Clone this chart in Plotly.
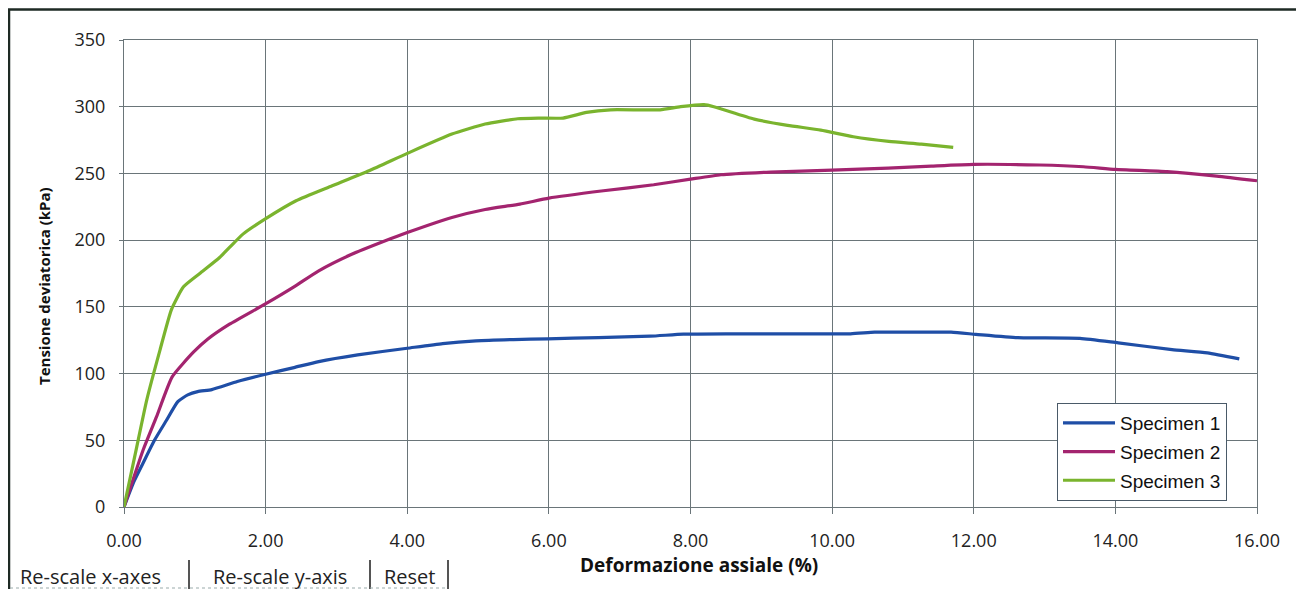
import plotly.graph_objects as go

# ---- data ----
strain1 = [0, 0.14, 0.27, 0.43, 0.6, 0.76, 0.9, 1.04, 1.24, 1.6, 2.0, 2.4, 2.75, 3.3, 4.0, 4.5,
           4.97, 5.5, 5.98, 6.7, 7.43, 7.9, 8.5, 9.2, 10.26, 10.6, 11.0, 11.68, 12.03, 12.62,
           13.5, 14.04, 14.8, 15.3, 15.75]
stress1 = [0, 19, 33, 50, 65, 79, 84, 86.5, 88, 94, 99.5, 104.5, 109, 114, 119, 122.5,
           124.5, 125.5, 126, 127, 128, 129.5, 129.8, 129.8, 129.8, 131, 131, 131, 129.4, 126.9,
           126.4, 123, 118, 115.5, 111]

strain2 = [0, 0.27, 0.46, 0.68, 0.98, 1.18, 1.49, 1.99, 2.4, 2.75, 3.2, 3.69, 4.0, 4.63, 5.1,
           5.59, 6.0, 6.77, 7.48, 8.0, 8.43, 9.13, 10.0, 10.79, 11.4, 12.0, 12.93, 13.55, 14.0,
           14.73, 15.43, 16.0]
stress2 = [0, 42.7, 67.7, 97.5, 116, 125.7, 137, 152, 165, 177, 189, 199.5, 205.7, 217, 223,
           227, 231.5, 237, 241.5, 245.7, 249, 251, 252.5, 254, 255.5, 256.8, 256.3, 255, 253,
           251.3, 248, 244.5]

strain3 = [0, 0.16, 0.32, 0.51, 0.67, 0.84, 1.07, 1.35, 1.49, 1.68, 1.99, 2.43, 2.94, 3.46, 4.0,
           4.63, 5.1, 5.56, 5.85, 6.2, 6.53, 6.87, 7.57, 7.86, 8.19, 8.33, 8.9, 9.37, 9.84, 10.3,
           10.8, 11.26, 11.71]
stress3 = [0, 40, 80, 118, 148, 165, 175, 187, 194.5, 204.5, 215.7, 229.5, 240.7, 252, 265,
           279.5, 287, 291, 291.5, 291.5, 295.7, 297.7, 297.7, 300, 301.5, 300, 290.7, 286, 282.5,
           277.5, 274, 272, 269.5]

series_names = ["Specimen 1", "Specimen 2", "Specimen 3"]
x_tick_vals = [0, 2, 4, 6, 8, 10, 12, 14, 16]
y_tick_vals = [0, 50, 100, 150, 200, 250, 300, 350]
button_labels = ["Re-scale x-axes", "Re-scale y-axis", "Reset"]

colors = ["#1f4ea6", "#a3246f", "#7ab42e"]

# the page body adds an 8px margin, so the figure is sized/placed in page px minus 8
OFF = 8
W, H = 1304 - OFF, 589 - OFF
L, R, T, B = 124 - OFF, 1257 - OFF, 40 - OFF, 507 - OFF


def px(x):
    """page x pixel -> paper coordinate"""
    return (x - OFF - L) / (R - L)


def py(y):
    """page y pixel -> paper coordinate"""
    return (B - (y - OFF)) / (B - T)


fig = go.Figure()
for i, (xs, ys) in enumerate([(strain1, stress1), (strain2, stress2), (strain3, stress3)]):
    fig.add_trace(go.Scatter(
        x=xs, y=ys, mode="lines", name=series_names[i],
        line=dict(color=colors[i], width=3.2, shape="spline", smoothing=0.5),
        legendgroup=str(i),
    ))

grid = "#6a7579"
tickfont = dict(family="Open Sans, Lato, sans-serif", size=18, color="#222")
fig.update_xaxes(
    range=[0, 16], tickvals=x_tick_vals, tickformat=".2f",
    showgrid=True, gridcolor=grid, gridwidth=1,
    showline=True, linecolor=grid, linewidth=1, mirror=True,
    ticks="outside", ticklen=6, tickcolor=grid,
    tickfont=tickfont, ticklabelstandoff=11, zeroline=False,
)
fig.update_yaxes(
    range=[0, 350], tickvals=y_tick_vals,
    showgrid=True, gridcolor=grid, gridwidth=1,
    showline=True, linecolor=grid, linewidth=1, mirror=True,
    ticks="outside", ticklen=4, tickcolor=grid,
    tickfont=tickfont, ticklabelstandoff=10, zeroline=False,
)

shapes = []
# outer frame
shapes.append(dict(type="rect", xref="paper", yref="paper",
                   x0=px(9), x1=px(1301), y0=py(640), y1=py(9.5),
                   line=dict(color="#1e2a24", width=2.5), layer="below"))
# button separators
for sx in [189, 370, 448]:
    shapes.append(dict(type="line", xref="paper", yref="paper",
                       x0=px(sx), x1=px(sx), y0=py(560), y1=py(589),
                       line=dict(color="#555", width=2)))
shapes.append(dict(type="line", xref="paper", yref="paper",
                   x0=px(10), x1=px(448), y0=py(588), y1=py(588),
                   line=dict(color="#9aa", width=1, dash="dot")))

annotations = [
    dict(text="<b>Deformazione assiale (%)</b>", xref="paper", yref="paper",
         x=px(699), y=py(565), xanchor="center", yanchor="middle", showarrow=False,
         font=dict(family="Open Sans, sans-serif", size=19, color="#111")),
    dict(text="<b>Tensione deviatorica (kPa)</b>", xref="paper", yref="paper",
         x=px(44), y=py(286), xanchor="center", yanchor="middle", showarrow=False,
         textangle=-90,
         font=dict(family="Open Sans, sans-serif", size=15, color="#111")),
]
for lab, cx in zip(button_labels, [90, 280, 409]):
    annotations.append(dict(text=lab, xref="paper", yref="paper",
                            x=px(cx), y=py(576), xanchor="center", yanchor="middle",
                            showarrow=False,
                            font=dict(family="Open Sans, sans-serif", size=20, color="#222")))

fig.update_layout(
    width=W, height=H, autosize=False,
    margin=dict(l=L, r=W - R, t=T, b=H - B),
    paper_bgcolor="white", plot_bgcolor="white",
    shapes=shapes, annotations=annotations,
    legend=dict(x=px(1057), y=py(403), xanchor="left", yanchor="top",
                bgcolor="white", bordercolor="#4a5a68", borderwidth=1,
                font=dict(family="Liberation Sans, Arial, sans-serif", size=19, color="#111"),
                tracegroupgap=1, itemwidth=52),
    showlegend=True,
)

fig.write_html("out.html")
